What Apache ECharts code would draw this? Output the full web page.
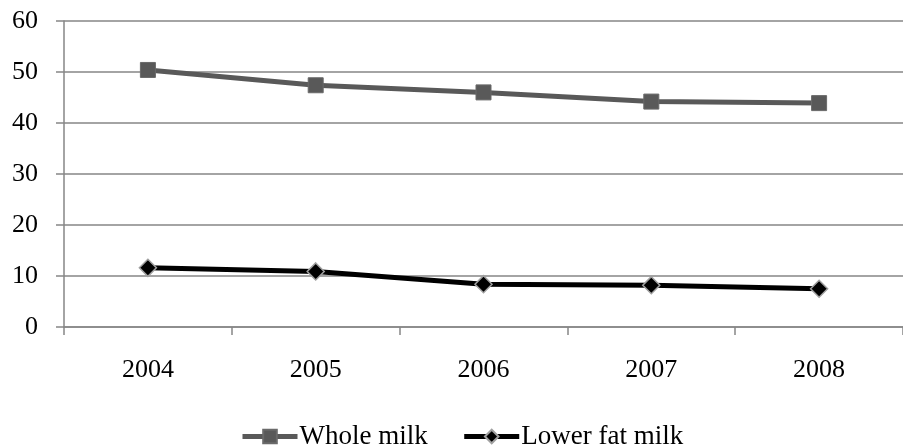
<!DOCTYPE html>
<html>
<head>
<meta charset="utf-8">
<script src="https://cdn.jsdelivr.net/npm/echarts@6/dist/echarts.min.js"></script>
<style>html,body{margin:0;padding:0;background:#fff}#c{width:903px;height:448px}</style>
</head>
<body>
<div id="c"></div>
<script>
var categories = ['2004', '2005', '2006', '2007', '2008'];
var wholeMilk = [50.4, 47.4, 46.0, 44.2, 43.9];
var lowerFatMilk = [11.6, 10.9, 8.4, 8.2, 7.5];
var yTicks = [0, 10, 20, 30, 40, 50, 60];

var font = '"Liberation Serif", "Times New Roman", serif';
var chart = echarts.init(document.getElementById('c'));
chart.setOption({
  animation: false,
  textStyle: {fontFamily: font},
  grid: {left: 64, right: -10, top: 21, bottom: 121, containLabel: false},
  legend: {
    left: 240, top: 423, padding: 0,
    itemWidth: 55, itemHeight: 17, itemGap: 34,
    lineStyle: {width: 5},
    textStyle: {fontFamily: font, fontSize: 27, color: '#000', padding: [0, 0, 0, -3]},
    data: ['Whole milk', 'Lower fat milk']
  },
  xAxis: {
    type: 'category',
    data: categories,
    boundaryGap: true,
    axisLine: {lineStyle: {color: '#868686', width: 1.5}},
    axisTick: {show: true, length: 8, lineStyle: {color: '#868686', width: 1.5}},
    axisLabel: {fontFamily: font, fontSize: 26, color: '#000', margin: 30}
  },
  yAxis: {
    type: 'value',
    min: yTicks[0], max: yTicks[yTicks.length - 1], interval: 10,
    axisLine: {show: true, lineStyle: {color: '#868686', width: 1.5}},
    axisTick: {show: true, length: 8, lineStyle: {color: '#868686', width: 1.5}},
    splitLine: {show: true, lineStyle: {color: '#868686', width: 1.5}},
    axisLabel: {fontFamily: font, fontSize: 26, color: '#000', margin: 26}
  },
  series: [
    {
      name: 'Whole milk', type: 'line', data: wholeMilk,
      symbol: 'rect', symbolSize: 15,
      lineStyle: {color: '#595959', width: 5},
      itemStyle: {color: '#595959', borderColor: '#6a6a6a', borderWidth: 1}
    },
    {
      name: 'Lower fat milk', type: 'line', data: lowerFatMilk,
      symbol: 'diamond', symbolSize: 17,
      lineStyle: {color: '#000', width: 5},
      itemStyle: {color: '#000', borderColor: '#a0a0a0', borderWidth: 1.5}
    }
  ]
});
</script>
</body>
</html>
